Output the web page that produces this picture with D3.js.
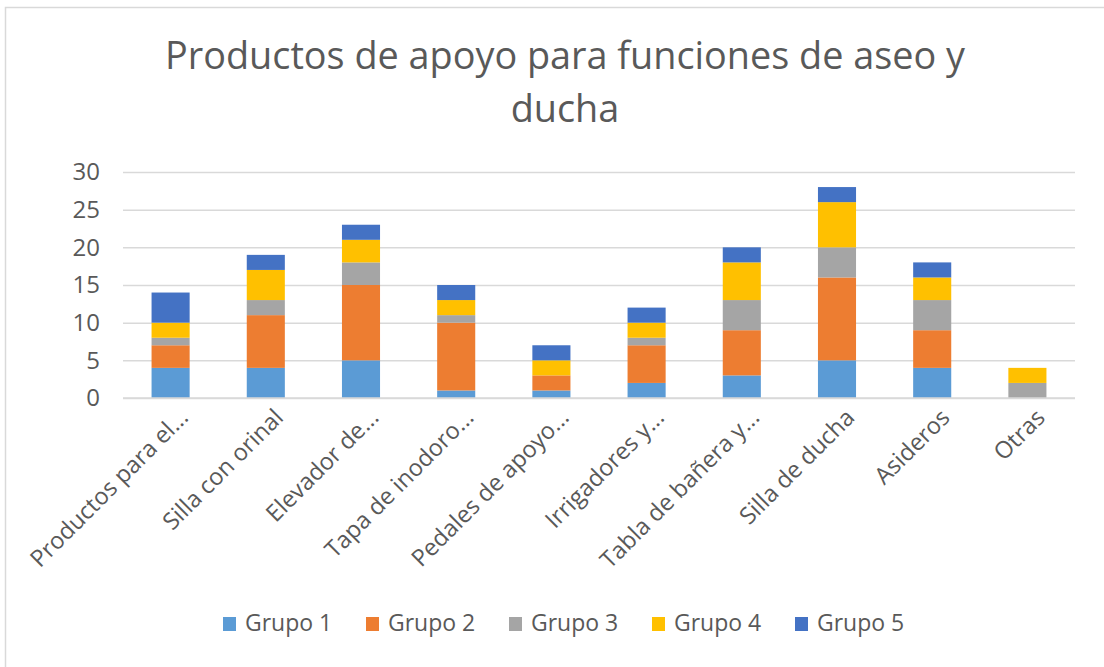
<!DOCTYPE html>
<html>
<head>
<meta charset="utf-8">
<script src="https://cdn.jsdelivr.net/npm/d3@7"></script>
<style>
  html, body { margin: 0; padding: 0; background: #fff; }
  svg { display: block; font-family: "Open Sans", sans-serif; }
</style>
</head>
<body>
<div class="chart"></div>
<script>
// categories and stacked series
const categories = [
  "Productos para el...", "Silla con orinal", "Elevador de...", "Tapa de inodoro...",
  "Pedales de apoyo...", "Irrigadores y...", "Tabla de bañera y...", "Silla de ducha",
  "Asideros", "Otras"
];
const grupo1 = [4, 4, 5, 1, 1, 2, 3, 5, 4, 0];
const grupo2 = [3, 7, 10, 9, 2, 5, 6, 11, 5, 0];
const grupo3 = [1, 2, 3, 1, 0, 1, 4, 4, 4, 2];
const grupo4 = [2, 4, 3, 2, 2, 2, 5, 6, 3, 2];
const grupo5 = [4, 2, 2, 2, 2, 2, 2, 2, 2, 0];
const seriesNames = ["Grupo 1", "Grupo 2", "Grupo 3", "Grupo 4", "Grupo 5"];
const yTicks = [0, 5, 10, 15, 20, 25, 30];
const colors = ["#5B9BD5", "#ED7D31", "#A5A5A5", "#FFC000", "#4472C4"];

const W = 1104, H = 667;
const plotLeft = 123, plotRight = 1075, plotTop = 172, plotBottom = 398;
const textColor = "#595959";

// -1- svg + chart border
const svg = d3.select(".chart").append("svg")
  .attr("width", W).attr("height", H);
svg.append("rect")
  .attr("x", 5.5).attr("y", 7.5)
  .attr("width", W + 10).attr("height", H + 10)
  .attr("fill", "#fff").attr("stroke", "#D9D9D9").attr("stroke-width", 1.5);

// -2- title, two lines, fitted to the reference width
const title = svg.append("text")
  .attr("text-anchor", "middle").attr("fill", textColor)
  .style("font-size", "36px");
title.append("tspan").attr("x", 565).attr("y", 69)
  .text("Productos de apoyo para funciones de aseo y");
title.append("tspan").attr("x", 565).attr("y", 122).text("ducha");
const firstLine = title.select("tspan").node().getComputedTextLength();
title.style("font-size", (36 * 800 / firstLine) + "px");

// -3- scales
const x = d3.scaleBand().domain(categories).range([plotLeft, plotRight])
  .paddingInner(0.6).paddingOuter(0.3);
const y = d3.scaleLinear().domain([0, 30]).range([plotBottom, plotTop]);

// gridlines + y labels
const yAxis = svg.append("g")
  .attr("transform", `translate(${plotLeft},0)`)
  .call(d3.axisLeft(y).tickValues(yTicks).tickSize(-(plotRight - plotLeft)).tickPadding(23));
yAxis.select(".domain").remove();
yAxis.selectAll("line").attr("stroke", "#D9D9D9").attr("stroke-width", 1.5);
yAxis.selectAll("text").attr("fill", textColor).style("font-size", "24px")
  .style("font-family", "Open Sans");

// -4- stacked bars
const rows = categories.map((c, i) => ({
  cat: c,
  "Grupo 1": grupo1[i], "Grupo 2": grupo2[i], "Grupo 3": grupo3[i],
  "Grupo 4": grupo4[i], "Grupo 5": grupo5[i]
}));
const stacked = d3.stack().keys(seriesNames)(rows);
svg.append("g").selectAll("g")
  .data(stacked).enter().append("g")
  .attr("fill", (d, i) => colors[i])
  .selectAll("rect")
  .data(d => d).enter().append("rect")
  .attr("x", d => x(d.data.cat))
  .attr("width", x.bandwidth())
  .attr("y", d => y(d[1]))
  .attr("height", d => y(d[0]) - y(d[1]));

// baseline
svg.append("line")
  .attr("x1", plotLeft).attr("x2", plotRight)
  .attr("y1", plotBottom).attr("y2", plotBottom)
  .attr("stroke", "#D9D9D9").attr("stroke-width", 1.5);

// -5- category labels rotated -45
svg.append("g").selectAll("text")
  .data(categories).enter().append("text")
  .attr("text-anchor", "end")
  .attr("fill", textColor)
  .style("font-size", "23.5px")
  .attr("transform", d => {
    const cx = x(d) + x.bandwidth() / 2 + 19;
    return `translate(${cx},${plotBottom + 21}) rotate(-45)`;
  })
  .text(d => d);

// -6- legend
const legend = svg.append("g").selectAll("g")
  .data(seriesNames).enter().append("g")
  .attr("transform", (d, i) => `translate(${223 + i * 143},0)`);
legend.append("rect")
  .attr("x", 0).attr("y", 617).attr("width", 13).attr("height", 14)
  .attr("fill", (d, i) => colors[i]);
legend.append("text")
  .attr("x", 22).attr("y", 631)
  .attr("fill", textColor).style("font-size", "23px")
  .text(d => d);
</script>
</body>
</html>
